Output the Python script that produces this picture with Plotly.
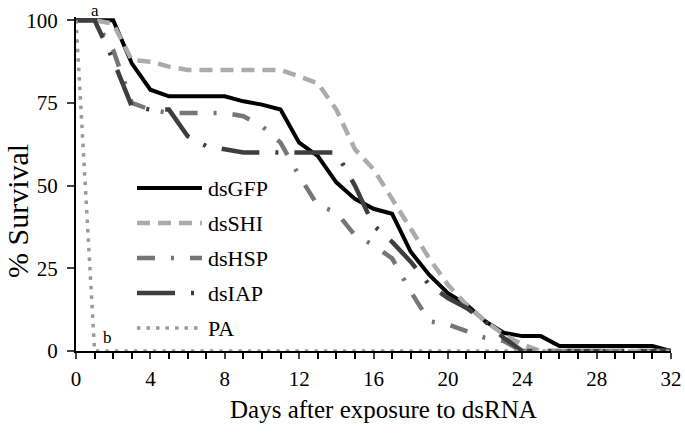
import plotly.graph_objects as go

# Days after exposure and % survival per treatment
days = list(range(0, 33))

dsGFP = [100, 100, 100, 87, 79, 77, 77, 77, 77, 75.5, 74.5, 73, 63, 59, 51, 46, 43,
         41.5, 30, 23, 17.5, 14, 9, 5.5, 4.5, 4.5, 1.5, 1.5, 1.5, 1.5, 1.5, 1.5, 0]
dsSHI = [100, 100, 99, 88, 87.5, 86, 85, 85, 85, 85, 85, 85, 83, 81, 73, 61, 55,
         46, 37, 28, 20, 14, 9, 5, 2, 0, 0, 0, 0, 0, 0, 0, 0]
dsHSP = [100, 100, 91, 75, 73, 72, 72, 72, 72, 71, 68, 63, 53, 44, 42, 35, 32,
         28, 18, 9, 8, 6, 4, 3, 0, 0, 0, 0, 0, 0, 0, 0, 0]
dsIAP = [100, 100, 88, 74, 73, 73, 65, 62, 61, 60, 60, 60, 60, 60, 60, 50, 38,
         33, 27, 20, 16, 13, 9, 4, 0, 0, 0, 0, 0, 0, 0, 0, 0]
PA = [100, 0, 0, 0, 0, 0, 0, 0, 0, 0, 0, 0, 0, 0, 0, 0, 0,
      0, 0, 0, 0, 0, 0, 0, 0, 0, 0, 0, 0, 0, 0, 0, 0]

serif = "Liberation Serif, Times New Roman, serif"
W, H = 685, 439
L, R, T, B = 76, 14, 17, 88

fig = go.Figure()

# name, values, colour, dash, width
series = [
    ("dsGFP", dsGFP, "#000000", "solid", 4),
    ("dsSHI", dsSHI, "#ababab", "13px,8px", 4.5),
    ("dsHSP", dsHSP, "#767676", "18px,16px,3px,16px", 4.5),
    ("dsIAP", dsIAP, "#3e3e3e", "38px,16px,3px,16px", 4.5),
    ("PA", PA, "#9a9a9a", "3.5px,6px", 3.5),
]
for name, vals, color, dash, width in series:
    fig.add_trace(go.Scatter(x=days, y=vals, name=name, mode="lines", showlegend=False,
                             hoverinfo="skip", line=dict(color=color, dash=dash, width=width)))

# pixel -> paper helpers for the hand placed texts
pw, ph = W - L - R, H - T - B
def px_x(p):
    return (p - L) / pw
def px_y(p):
    return (H - B - p) / ph

def label(x, y, text, size, angle=0, xanchor="center"):
    fig.add_annotation(xref="paper", yref="paper", x=px_x(x), y=px_y(y), text=text,
                       textangle=angle, showarrow=False, xanchor=xanchor, yanchor="middle",
                       font=dict(family=serif, size=size, color="black"))

# Hand-made legend so the keys are as long as in the original
for i, (name, vals, color, dash, width) in enumerate(series):
    yy = 188 + 35 * i
    fig.add_shape(type="line", xref="paper", yref="paper",
                  x0=px_x(137), x1=px_x(202), y0=px_y(yy), y1=px_y(yy),
                  line=dict(color=color, dash=dash, width=width))
    label(206, yy, name, 22, xanchor="left")

# Significance letters
label(95, 11, "a", 17)
label(107, 337, "b", 17)

# Axis titles
label(17, 211, "% Survival", 30, angle=-90)
label(383, 409, "Days after exposure to dsRNA", 25)

fig.update_layout(
    width=W, height=H,
    margin=dict(l=L, r=R, t=T, b=B),
    plot_bgcolor="white", paper_bgcolor="white",
    font=dict(family=serif, size=21, color="black"),
    showlegend=False,
    xaxis=dict(range=[0, 32], tick0=0, dtick=4, ticks="outside", ticklen=6, tickwidth=1.5,
               showline=True, linecolor="black", linewidth=2, showgrid=False, zeroline=False,
               automargin=False, ticklabelstandoff=2,
               minor=dict(dtick=1, ticks="outside", ticklen=6, tickwidth=1.5, tickcolor="black")),
    yaxis=dict(range=[0, 101], tickvals=[0, 25, 50, 75, 100], ticks="outside", ticklen=7,
               tickwidth=1.5, showline=True, linecolor="black", linewidth=2, showgrid=False,
               zeroline=False, automargin=False, ticklabelstandoff=5),
)

# drop the page's default body margin so the chart sits at the window's corner
fig.write_html("out.html", config={"displayModeBar": False},
               post_script="document.body.style.margin='0px';")
